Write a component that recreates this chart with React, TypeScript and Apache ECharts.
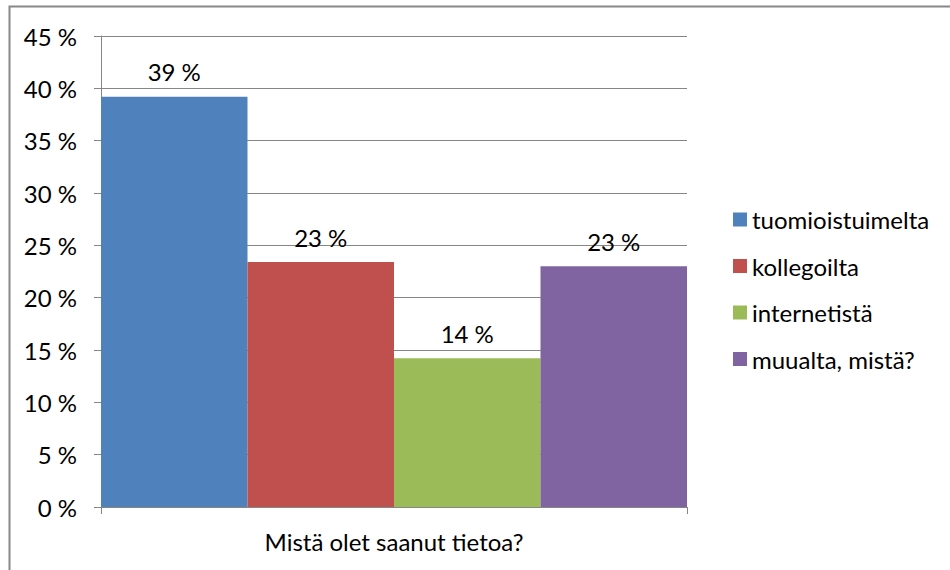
import React, { useEffect, useRef } from "react";
import * as echarts from "echarts";

const categories = ["Mistä olet saanut tietoa?"];
const seriesNames = ["tuomioistuimelta", "kollegoilta", "internetistä", "muualta, mistä?"];
const seriesValues = [39.2, 23.4, 14.2, 23.0];
const seriesColors = ["#4F81BD", "#C0504D", "#9BBB59", "#8064A2"];
const yTicks = { min: 0, max: 45, interval: 5 };

const FONT = "Lato";
const FS = 24;

export default function App() {
  const ref = useRef<HTMLDivElement>(null);
  useEffect(() => {
    if (!ref.current) return;
    const chart = echarts.init(ref.current, undefined, { renderer: "svg" });
    chart.setOption({
      animation: false,
      backgroundColor: "#ffffff",
      textStyle: { fontFamily: FONT },
      graphic: [
        {
          type: "rect",
          shape: { x: 9.5, y: 6.5, width: 1000, height: 700 },
          style: { fill: "none", stroke: "#888888", lineWidth: 2 },
          silent: true,
        },
      ],
      grid: { left: 101, right: 263, top: 36, bottom: 63 },
      legend: {
        orient: "vertical",
        left: 728,
        top: 202,
        itemWidth: 14,
        itemHeight: 14,
        itemGap: 21.5,
        icon: "rect",
        data: seriesNames,
        textStyle: { fontFamily: FONT, fontSize: FS, color: "#000", padding: [0, 0, 0, 0], lineHeight: 25 },
      },
      xAxis: {
        type: "category",
        data: categories,
        axisLine: { lineStyle: { color: "#868686", width: 1 } },
        axisTick: { show: true, length: 7, lineStyle: { color: "#868686" } },
        axisLabel: { fontFamily: FONT, fontSize: FS, color: "#000", margin: 22 },
      },
      yAxis: {
        type: "value",
        min: yTicks.min,
        max: yTicks.max,
        interval: yTicks.interval,
        axisLine: { show: true, lineStyle: { color: "#868686", width: 1 } },
        axisTick: { show: true, length: 7, lineStyle: { color: "#868686" } },
        splitLine: { show: true, lineStyle: { color: "#868686", width: 1 } },
        axisLabel: {
          fontFamily: FONT,
          fontSize: FS,
          color: "#000",
          margin: 24,
          formatter: (v: number) => `${v} %`,
        },
      },
      series: seriesNames.map((name, i) => ({
        name,
        type: "bar",
        data: [seriesValues[i]],
        barGap: "0%",
        barCategoryGap: "0%",
        itemStyle: { color: seriesColors[i] },
        label: {
          show: true,
          position: "top",
          distance: 13,
          fontFamily: FONT,
          fontSize: FS,
          color: "#000",
          formatter: (p: any) => `${Math.round(p.value)} %`,
        },
      })),
    });
    return () => chart.dispose();
  }, []);
  return (
    <div
      ref={ref}
      style={{ position: "absolute", left: 0, top: 0, width: 950, height: 570 }}
    />
  );
}
